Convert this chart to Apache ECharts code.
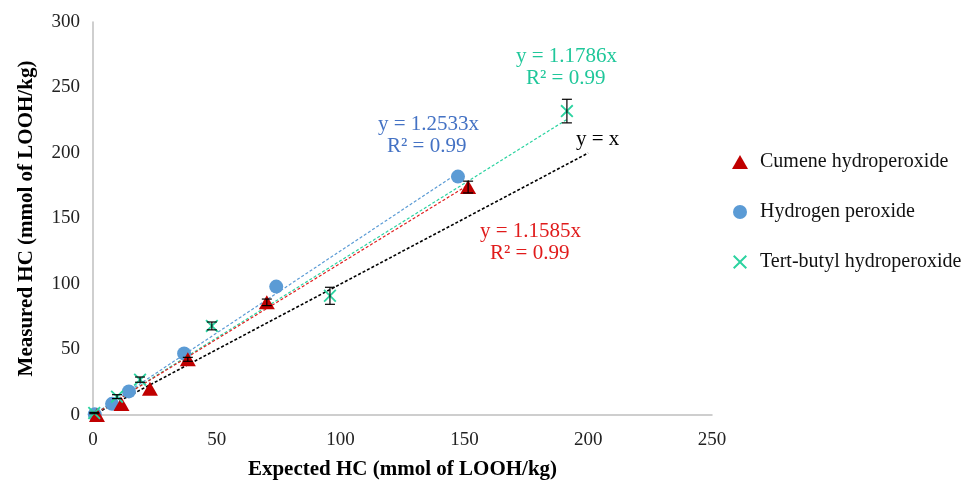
<!DOCTYPE html>
<html>
<head>
<meta charset="utf-8">
<script src="https://cdn.jsdelivr.net/npm/echarts@6/dist/echarts.min.js"></script>
<style>html,body{margin:0;padding:0;background:#fff}#c{width:972px;height:481px}</style>
</head>
<body>
<div id="c"></div>
<script>
// Data
const cumeneX = [1.6, 11.5, 23, 38.3, 70.2, 151.5];
const cumeneY = [0, 8.4, 20, 42.5, 86, 174];
const cumeneErr = [0, 0, 0, 1.5, 2.5, 4.5];
const h2o2X = [0.7, 7.7, 14.5, 36.8, 74, 147.4];
const h2o2Y = [0.5, 8.5, 18, 47, 98, 182];
const tbhpX = [0.5, 9.7, 19, 48, 95.7, 191.4];
const tbhpY = [1.5, 14, 27, 68, 91, 232];
const tbhpErr = [0.5, 1.5, 2, 3, 6.5, 9];
const slopes = { cumene: 1.1585, h2o2: 1.2533, tbhp: 1.1786 };
const identityEnd = 200;
const xTicks = { min: 0, max: 250, interval: 50 };
const yTicks = { min: 0, max: 300, interval: 50 };

const RED = '#C00000', BLUE = '#5B9BD5', GREEN = '#2BD3A0';
const FONT = '"Liberation Serif", "Times New Roman", serif';

const zip = (xs, ys) => xs.map((x, i) => [x, ys[i]]);
const trend = (xs, k) => { const m = Math.max(...xs); return [[0, 0], [m, k * m]]; };
const errData = (xs, ys, es) => xs.map((x, i) => [x, ys[i], es[i]]).filter(d => d[2] > 0);

const xSym = 'path://M0,1 L1,0 L5,4 L9,0 L10,1 L6,5 L10,9 L9,10 L5,6 L1,10 L0,9 L4,5 Z';

function errRender(params, api) {
  const x = api.value(0), y = api.value(1), e = api.value(2);
  const top = api.coord([x, y + e]);
  const bot = api.coord([x, y - e]);
  const w = 5;
  const st = { stroke: '#000', lineWidth: 1.2 };
  return {
    type: 'group',
    children: [
      { type: 'line', shape: { x1: top[0], y1: top[1], x2: bot[0], y2: bot[1] }, style: st },
      { type: 'line', shape: { x1: top[0] - w, y1: top[1], x2: top[0] + w, y2: top[1] }, style: st },
      { type: 'line', shape: { x1: bot[0] - w, y1: bot[1], x2: bot[0] + w, y2: bot[1] }, style: st }
    ]
  };
}

const chart = echarts.init(document.getElementById('c'));
const dashLine = (name, data, color, w) => ({
  name, type: 'line', data, symbol: 'none', silent: true, z: 1,
  lineStyle: { color, width: w, type: [3, 2] }
});

chart.setOption({
  animation: false,
  backgroundColor: '#fff',
  textStyle: { fontFamily: FONT },
  grid: { left: 93, right: 260, top: 22, bottom: 66, containLabel: false, outerBoundsMode: 'none' },
  xAxis: {
    type: 'value', min: xTicks.min, max: xTicks.max, interval: xTicks.interval,
    name: 'Expected HC (mmol of LOOH/kg)', nameLocation: 'middle', nameGap: 44,
    nameTextStyle: { fontFamily: FONT, fontSize: 21, fontWeight: 'bold', color: '#000' },
    axisLine: { lineStyle: { color: '#BFBFBF', width: 1.5 } },
    axisTick: { show: false }, splitLine: { show: false },
    axisLabel: { fontFamily: FONT, fontSize: 19, color: '#222', margin: 16 }
  },
  yAxis: {
    type: 'value', min: yTicks.min, max: yTicks.max, interval: yTicks.interval,
    name: 'Measured HC (mmol of LOOH/kg)', nameLocation: 'middle', nameGap: 56,
    nameTextStyle: { fontFamily: FONT, fontSize: 21, fontWeight: 'bold', color: '#000' },
    axisLine: { show: true, lineStyle: { color: '#BFBFBF', width: 1.5 } },
    axisTick: { show: false }, splitLine: { show: false },
    axisLabel: { fontFamily: FONT, fontSize: 19, color: '#222', margin: 13 }
  },
  legend: {
    orient: 'vertical', left: 727, top: 147, itemGap: 30, itemWidth: 16, itemHeight: 14,
    textStyle: { fontFamily: FONT, fontSize: 20, color: '#111', padding: [0, 0, 0, 7] },
    data: [
      { name: 'Cumene hydroperoxide', icon: 'triangle' },
      { name: 'Hydrogen peroxide', icon: 'circle' },
      { name: 'Tert-butyl hydroperoxide', icon: xSym }
    ]
  },
  series: [
    dashLine('y=x', [[0, 0], [identityEnd, identityEnd]], '#000', 1.6),
    dashLine('tH', trend(h2o2X, slopes.h2o2), BLUE, 1.2),
    dashLine('tT', trend(tbhpX, slopes.tbhp), GREEN, 1.2),
    dashLine('tC', trend(cumeneX, slopes.cumene), '#E02020', 1.2),
    { name: 'Hydrogen peroxide', type: 'scatter', data: zip(h2o2X, h2o2Y), symbol: 'circle', symbolSize: 14,
      itemStyle: { color: BLUE, opacity: 1 }, z: 3 },
    { name: 'Cumene hydroperoxide', type: 'scatter', data: zip(cumeneX, cumeneY), symbol: 'triangle', symbolSize: [16, 14],
      itemStyle: { color: RED, opacity: 1 }, z: 4 },
    { name: 'Tert-butyl hydroperoxide', type: 'scatter', data: zip(tbhpX, tbhpY), symbol: xSym, symbolSize: 13,
      itemStyle: { color: GREEN, opacity: 1 }, z: 5 },
    { name: 'errC', type: 'custom', renderItem: errRender, data: errData(cumeneX, cumeneY, cumeneErr), z: 6, silent: true },
    { name: 'errT', type: 'custom', renderItem: errRender, data: errData(tbhpX, tbhpY, tbhpErr), z: 6, silent: true }
  ],
  graphic: [
    { type: 'text', left: 378, top: 114, style: { text: 'y = 1.2533x', font: '21px ' + FONT, fill: '#4472C4' } },
    { type: 'text', left: 387, top: 136, style: { text: 'R² = 0.99', font: '21px ' + FONT, fill: '#4472C4' } },
    { type: 'text', left: 516, top: 46, style: { text: 'y = 1.1786x', font: '21px ' + FONT, fill: '#1FC79A' } },
    { type: 'text', left: 526, top: 68, style: { text: 'R² = 0.99', font: '21px ' + FONT, fill: '#1FC79A' } },
    { type: 'text', left: 576, top: 129, style: { text: 'y = x', font: '21px ' + FONT, fill: '#000' } },
    { type: 'text', left: 480, top: 221, style: { text: 'y = 1.1585x', font: '21px ' + FONT, fill: '#E01B1B' } },
    { type: 'text', left: 490, top: 243, style: { text: 'R² = 0.99', font: '21px ' + FONT, fill: '#E01B1B' } }
  ]
});
</script>
</body>
</html>
